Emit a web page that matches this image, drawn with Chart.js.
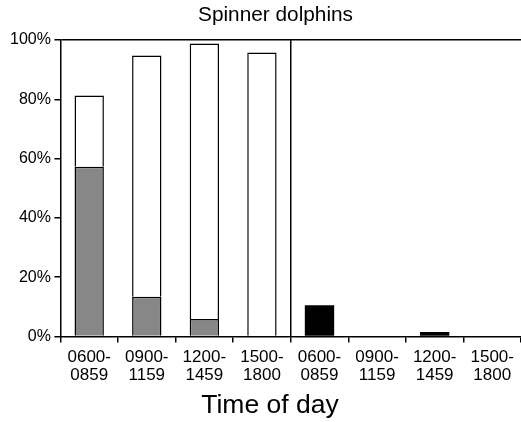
<!DOCTYPE html>
<html>
<head>
<meta charset="utf-8">
<script src="https://cdn.jsdelivr.net/npm/chart.js@4"></script>
<style>
  body { margin: 0; background: #fff; }
  #wrap { width: 521px; height: 422px; }
</style>
</head>
<body>
<div id="wrap"><canvas id="chart"></canvas></div>
<script>
// categories: two blocks of the same time slots
var timeLabels = [
    ["0600-", "0859"], ["0900-", "1159"], ["1200-", "1459"], ["1500-", "1800"],
    ["0600-", "0859"], ["0900-", "1159"], ["1200-", "1459"], ["1500-", "1800"]
];
// percentages
var grayValues  = [57.2, 13.4, 5.9, 0, null, null, null, null];
var whiteValues = [24.1, 81.4, 92.9, 95.8, null, null, null, null];
var blackValues = [null, null, null, null, 10.5, null, 1.5, null];
var yTicks = [0, 20, 40, 60, 80, 100];

var font = "'Liberation Sans', Arial, sans-serif";
Chart.defaults.font.family = font;
Chart.defaults.color = "#000";

// the titles in the original are not centred on the canvas, nudge their boxes
var shiftTitles = {
    id: "shiftTitles",
    afterLayout: function (chart) {
        chart.boxes.forEach(b => {
            if (!b.options || !b.options.text) return;
            if (b.options.text === "Spinner dolphins") b.left = 30;
            if (b.options.text === "Time of day") b.left = 19;
        });
    }
};

const ctx = document.getElementById('chart');
var chart = new Chart(ctx, {
    type: "bar",
    data: {
        labels: timeLabels,
        datasets: [{
            data: grayValues,
            backgroundColor: "#878787",
            borderColor: "#000",
            borderWidth: 1.5
        }, {
            data: whiteValues,
            backgroundColor: "#fff",
            borderColor: "#000",
            borderWidth: 1.5
        }, {
            data: blackValues,
            backgroundColor: "#000",
            borderWidth: 0
        }]
    },
    plugins: [shiftTitles],
    options: {
        responsive: true,
        maintainAspectRatio: false,
        animation: false,
        layout: {
            padding: { left: 6.5, right: 0, top: 0, bottom: 2.7 }
        },
        datasets: {
            bar: { categoryPercentage: 1, barPercentage: 0.51 }
        },
        plugins: {
            legend: { display: false },
            tooltip: { enabled: false },
            title: {
                display: true,
                text: "Spinner dolphins",
                font: { size: 20.8, weight: "normal", lineHeight: 1.2 },
                color: "#000",
                padding: { top: 3, bottom: 12 }
            },
            // axis title sits under the tick labels
            subtitle: {
                display: true,
                position: "bottom",
                text: "Time of day",
                font: { size: 26.5, weight: "normal", lineHeight: 1 },
                color: "#000",
                padding: { top: 2.6, bottom: 0 }
            }
        },
        scales: {
            x: {
                stacked: true,
                border: { display: true, color: "#000", width: 1.5 },
                grid: {
                    offset: true,
                    drawOnChartArea: true,
                    color: c => c.index === 4 ? "#000" : "rgba(0,0,0,0)",
                    lineWidth: 1.5,
                    tickColor: "#000",
                    tickLength: 6
                },
                ticks: {
                    font: { size: 17, lineHeight: 1.08 },
                    color: "#000",
                    maxRotation: 0,
                    autoSkip: false,
                    padding: 5.5
                }
            },
            y: {
                stacked: true,
                min: 0,
                max: 100,
                afterBuildTicks: axis => { axis.ticks = yTicks.map(v => ({ value: v })); },
                border: { display: true, color: "#000", width: 1.5 },
                grid: {
                    drawOnChartArea: true,
                    color: c => c.tick && c.tick.value === 100 ? "#000" : "rgba(0,0,0,0)",
                    lineWidth: 1.5,
                    tickColor: "#000",
                    tickLength: 6
                },
                ticks: {
                    font: { size: 16 },
                    color: "#000",
                    padding: 3.5,
                    callback: v => v + "%"
                }
            }
        }
    }
});
</script>
</body>
</html>
